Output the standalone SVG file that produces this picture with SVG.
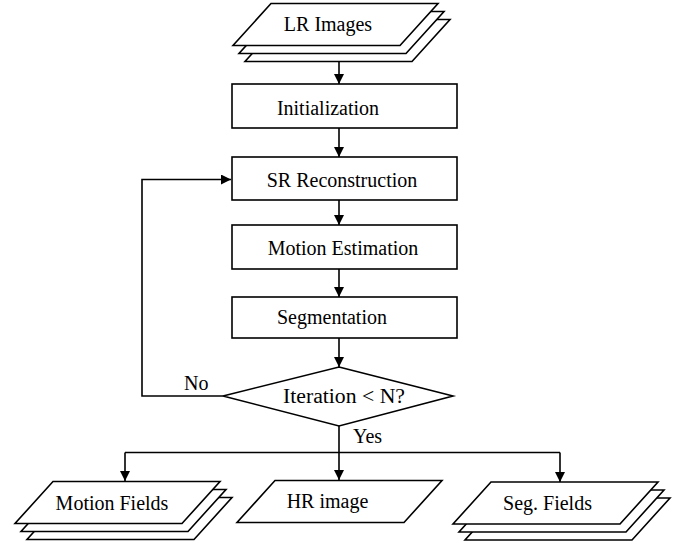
<svg xmlns="http://www.w3.org/2000/svg" width="685" height="549" viewBox="0 0 685 549">
<style>
  .shape { fill: #fff; stroke: #000; stroke-width: 1.6; }
  .conn { fill: none; stroke: #000; stroke-width: 1.6; }
  text { font-family: "Liberation Serif", "Times New Roman", serif; font-size: 20px; fill: #000; }
  .c { text-anchor: middle; }
</style>
<defs>
  <marker id="arrow" viewBox="0 0 10 10" refX="10" refY="5" markerWidth="12" markerHeight="10" markerUnits="userSpaceOnUse" orient="auto">
    <path d="M0,0 L10,5 L0,10 z" fill="#000"/>
  </marker>
  <polygon id="para" points="38,0 205,0 167,42 0,42"/>
</defs>
<rect width="685" height="549" fill="#fff"/>

<g id="connectors">
  <line class="conn" x1="339" y1="62" x2="339" y2="84" marker-end="url(#arrow)"/>
  <line class="conn" x1="339" y1="128" x2="339" y2="157" marker-end="url(#arrow)"/>
  <line class="conn" x1="339" y1="200" x2="339" y2="225" marker-end="url(#arrow)"/>
  <line class="conn" x1="339" y1="269" x2="339" y2="297" marker-end="url(#arrow)"/>
  <line class="conn" x1="339" y1="338" x2="339" y2="367" marker-end="url(#arrow)"/>
  <polyline class="conn" points="223,396 142,396 142,179.5 231,179.5" marker-end="url(#arrow)"/>
  <line class="conn" x1="339" y1="426" x2="339" y2="452.5"/>
  <line class="conn" x1="125" y1="452.5" x2="560" y2="452.5"/>
  <line class="conn" x1="125" y1="452.5" x2="125" y2="481" marker-end="url(#arrow)"/>
  <line class="conn" x1="339" y1="452.5" x2="339" y2="480" marker-end="url(#arrow)"/>
  <line class="conn" x1="560" y1="452.5" x2="560" y2="482" marker-end="url(#arrow)"/>
  <text x="184" y="390">No</text>
  <text x="353" y="443">Yes</text>
</g>

<g id="lr-images">
  <use href="#para" class="shape" x="245" y="19.5"/>
  <use href="#para" class="shape" x="239" y="11.5"/>
  <use href="#para" class="shape" x="233" y="3.5"/>
  <text class="c" x="328" y="31">LR Images</text>
</g>

<g id="initialization">
  <rect class="shape" x="232" y="84" width="225" height="44"/>
  <text class="c" x="328" y="115">Initialization</text>
</g>

<g id="sr-reconstruction">
  <rect class="shape" x="232" y="157" width="225" height="43"/>
  <text class="c" x="342" y="187">SR Reconstruction</text>
</g>

<g id="motion-estimation">
  <rect class="shape" x="232" y="225" width="225" height="44"/>
  <text class="c" x="343" y="255">Motion Estimation</text>
</g>

<g id="segmentation">
  <rect class="shape" x="232" y="297" width="225" height="41"/>
  <text class="c" x="332" y="324">Segmentation</text>
</g>

<g id="iteration">
  <polygon class="shape" points="339,367 453,396 339,426 223,396"/>
  <text class="c" x="344" y="403" textLength="122" lengthAdjust="spacingAndGlyphs">Iteration &lt; N?</text>
</g>

<g id="motion-fields">
  <use href="#para" class="shape" x="27" y="497.5"/>
  <use href="#para" class="shape" x="21" y="489.5"/>
  <use href="#para" class="shape" x="15" y="481.5"/>
  <text class="c" x="112" y="510">Motion Fields</text>
</g>

<g id="hr-image">
  <use href="#para" class="shape" x="237" y="480.5"/>
  <text class="c" x="327.5" y="508">HR image</text>
</g>

<g id="seg-fields">
  <use href="#para" class="shape" x="465" y="498"/>
  <use href="#para" class="shape" x="459" y="490"/>
  <use href="#para" class="shape" x="453" y="482"/>
  <text class="c" x="547.5" y="510">Seg. Fields</text>
</g>
</svg>
